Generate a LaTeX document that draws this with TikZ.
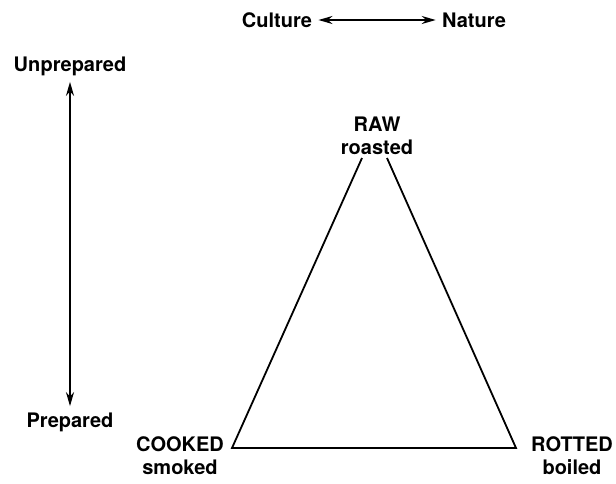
\documentclass[tikz,border=0pt]{standalone}
\usepackage{fontspec}
\setmainfont{TeX Gyre Heros}
\usepackage{tikz}
\usetikzlibrary{arrows.meta}

\begin{document}
\begin{tikzpicture}[
  x=0.5pt,y=-0.5pt,
  lbl/.style={font=\fontsize{10}{11.5}\selectfont\bfseries,align=center,inner sep=3pt},
  axis/.style={<->,line width=1pt},
  side/.style={line width=0.9pt,line join=miter},
  >={Stealth[length=7pt,width=4pt]}]
  \useasboundingbox (0,0) rectangle (616,483);
  % Culture -- Nature
  \node[lbl] (cult) at (277,20) {Culture};
  \node[lbl] (nat) at (474,20) {Nature};
  \draw[axis] (cult) -- (nat);
  % Unprepared -- Prepared
  \node[lbl] (unprep) at (70,66) {Unprepared};
  \node[lbl] (prep) at (70,422) {Prepared};
  \draw[axis] (unprep) -- (prep);
  % culinary triangle
  \node[lbl] (raw) at (377,136) {RAW\\roasted};
  \node[lbl] (cooked) at (180,456) {COOKED\\smoked};
  \node[lbl] (rotted) at (572,456) {ROTTED\\boiled};
  \coordinate (tl) at (362,158);
  \coordinate (tr) at (387,158);
  \coordinate (bl) at (232,448);
  \coordinate (br) at (516,448);
  \draw[side] (tl) -- (bl) -- (br) -- (tr);
\end{tikzpicture}
\end{document}
